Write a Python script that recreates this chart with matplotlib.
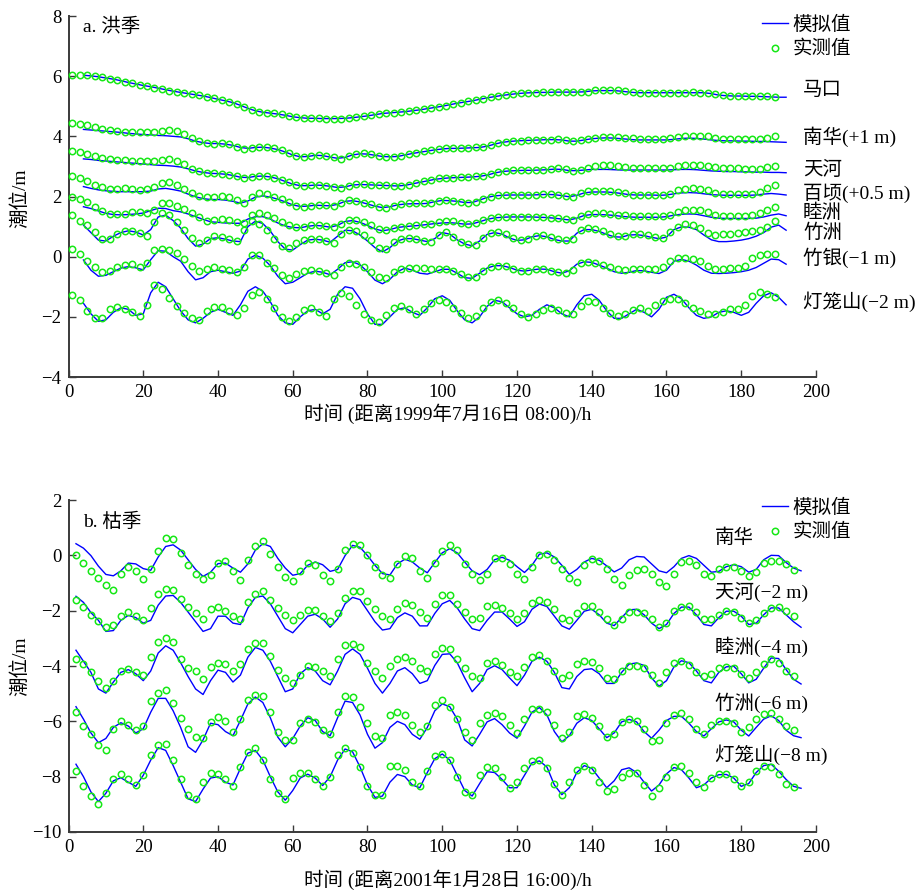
import numpy as np
import matplotlib
matplotlib.use("Agg")
import matplotlib.pyplot as plt
from matplotlib.lines import Line2D

plt.rcParams['font.family'] = ['Liberation Serif', 'Noto Sans CJK SC']
plt.rcParams['axes.unicode_minus'] = True

# ---------------- Panel a (flood season) ----------------
# observed values every 2 h starting at t=1 h; simulated every 2 h starting at t=4 h
a_names = ["马口", "南华(+1 m)", "天河", "百顷(+0.5 m)", "睦洲", "竹洲", "竹银(\u22121 m)", "灯笼山(\u22122 m)"]

MK_obs = [6.05, 6.05, 6.03, 6.00, 5.96, 5.92, 5.87, 5.82, 5.76, 5.71,
          5.67, 5.62, 5.57, 5.52, 5.48, 5.44, 5.40, 5.36, 5.31, 5.26,
          5.20, 5.15, 5.08, 4.97, 4.87, 4.82, 4.79, 4.76, 4.73, 4.68,
          4.63, 4.61, 4.60, 4.60, 4.59, 4.59, 4.59, 4.60, 4.63, 4.66,
          4.70, 4.74, 4.77, 4.79, 4.81, 4.83, 4.86, 4.90, 4.94, 4.98,
          5.02, 5.07, 5.12, 5.16, 5.20, 5.25, 5.30, 5.34, 5.37, 5.41,
          5.43, 5.44, 5.45, 5.46, 5.46, 5.47, 5.47, 5.48, 5.47, 5.49,
          5.53, 5.53, 5.53, 5.53, 5.50, 5.46, 5.45, 5.45, 5.45, 5.45,
          5.45, 5.45, 5.45, 5.46, 5.45, 5.44, 5.40, 5.36, 5.35, 5.35,
          5.34, 5.34, 5.33, 5.33, 5.32]
MK_sim = [6.03, 6.01, 5.98, 5.94, 5.90, 5.85, 5.79, 5.74, 5.69, 5.65,
          5.60, 5.55, 5.50, 5.46, 5.42, 5.38, 5.34, 5.29, 5.23, 5.18,
          5.12, 5.03, 4.93, 4.85, 4.80, 4.77, 4.74, 4.70, 4.65, 4.62,
          4.60, 4.60, 4.59, 4.59, 4.59, 4.60, 4.62, 4.65, 4.68, 4.72,
          4.76, 4.78, 4.80, 4.82, 4.85, 4.88, 4.92, 4.96, 5.00, 5.05,
          5.10, 5.14, 5.18, 5.23, 5.28, 5.32, 5.36, 5.39, 5.42, 5.44,
          5.45, 5.46, 5.46, 5.47, 5.47, 5.47, 5.47, 5.48, 5.51, 5.52,
          5.52, 5.52, 5.50, 5.47, 5.45, 5.45, 5.45, 5.45, 5.45, 5.45,
          5.45, 5.45, 5.45, 5.45, 5.42, 5.37, 5.35, 5.34, 5.34, 5.33,
          5.33, 5.32, 5.31, 5.30, 5.30]
NH_obs = [4.45, 4.42, 4.37, 4.32, 4.26, 4.22, 4.18, 4.16, 4.15, 4.15,
          4.15, 4.15, 4.17, 4.20, 4.17, 4.08, 3.93, 3.84, 3.78, 3.76,
          3.78, 3.73, 3.66, 3.58, 3.60, 3.65, 3.65, 3.60, 3.53, 3.45,
          3.35, 3.30, 3.35, 3.38, 3.34, 3.30, 3.26, 3.35, 3.42, 3.43,
          3.40, 3.35, 3.32, 3.32, 3.35, 3.42, 3.45, 3.50, 3.53, 3.57,
          3.60, 3.60, 3.61, 3.62, 3.63, 3.64, 3.70, 3.78, 3.82, 3.84,
          3.86, 3.87, 3.88, 3.89, 3.89, 3.90, 3.87, 3.83, 3.87, 3.92,
          3.96, 3.99, 3.99, 3.98, 3.96, 3.93, 3.91, 3.91, 3.91, 3.91,
          3.93, 3.99, 4.01, 4.02, 4.01, 4.00, 3.95, 3.91, 3.90, 3.90,
          3.90, 3.90, 3.90, 3.94, 4.01]
NH_sim = [4.23, 4.21, 4.19, 4.17, 4.15, 4.13, 4.10, 4.08, 4.06, 4.05,
          4.03, 4.02, 4.00, 3.98, 3.92, 3.84, 3.79, 3.76, 3.76, 3.74,
          3.70, 3.63, 3.60, 3.63, 3.64, 3.61, 3.56, 3.48, 3.38, 3.32,
          3.33, 3.37, 3.36, 3.31, 3.27, 3.30, 3.38, 3.42, 3.41, 3.37,
          3.33, 3.32, 3.33, 3.38, 3.43, 3.47, 3.51, 3.55, 3.58, 3.60,
          3.60, 3.61, 3.62, 3.63, 3.67, 3.74, 3.80, 3.83, 3.85, 3.86,
          3.87, 3.88, 3.89, 3.89, 3.88, 3.84, 3.84, 3.88, 3.92, 3.94,
          3.95, 3.94, 3.92, 3.90, 3.88, 3.88, 3.88, 3.88, 3.88, 3.90,
          3.93, 3.94, 3.93, 3.91, 3.88, 3.86, 3.85, 3.85, 3.84, 3.84,
          3.83, 3.83, 3.82, 3.81, 3.80]
TH_obs = [3.52, 3.47, 3.40, 3.33, 3.27, 3.24, 3.21, 3.20, 3.19, 3.19,
          3.18, 3.18, 3.20, 3.23, 3.17, 3.07, 2.93, 2.85, 2.79, 2.77,
          2.76, 2.73, 2.67, 2.61, 2.64, 2.69, 2.69, 2.63, 2.56, 2.48,
          2.38, 2.35, 2.37, 2.38, 2.36, 2.33, 2.29, 2.35, 2.40, 2.40,
          2.39, 2.38, 2.37, 2.36, 2.35, 2.39, 2.44, 2.50, 2.55, 2.60,
          2.63, 2.63, 2.64, 2.66, 2.67, 2.69, 2.75, 2.82, 2.86, 2.87,
          2.87, 2.88, 2.88, 2.89, 2.91, 2.94, 2.90, 2.86, 2.88, 2.95,
          3.01, 3.04, 3.05, 3.03, 2.98, 2.95, 2.94, 2.94, 2.94, 2.94,
          2.96, 3.02, 3.05, 3.06, 3.05, 3.03, 2.98, 2.95, 2.94, 2.94,
          2.93, 2.93, 2.93, 2.97, 3.01]
TH_sim = [3.25, 3.23, 3.20, 3.18, 3.16, 3.14, 3.12, 3.10, 3.08, 3.06,
          3.04, 3.03, 3.01, 2.98, 2.92, 2.85, 2.80, 2.77, 2.76, 2.74,
          2.70, 2.64, 2.63, 2.67, 2.68, 2.65, 2.59, 2.50, 2.41, 2.36,
          2.36, 2.38, 2.37, 2.34, 2.30, 2.32, 2.38, 2.40, 2.39, 2.38,
          2.37, 2.36, 2.35, 2.37, 2.42, 2.47, 2.52, 2.57, 2.60, 2.62,
          2.63, 2.64, 2.65, 2.67, 2.71, 2.78, 2.83, 2.85, 2.86, 2.87,
          2.87, 2.88, 2.89, 2.91, 2.90, 2.86, 2.86, 2.88, 2.90, 2.90,
          2.90, 2.89, 2.88, 2.88, 2.88, 2.88, 2.88, 2.88, 2.88, 2.89,
          2.90, 2.90, 2.89, 2.87, 2.85, 2.84, 2.83, 2.83, 2.82, 2.82,
          2.81, 2.81, 2.80, 2.80, 2.79]
BQ_obs = [2.68, 2.60, 2.50, 2.38, 2.30, 2.24, 2.25, 2.27, 2.25, 2.22,
          2.24, 2.30, 2.45, 2.47, 2.38, 2.25, 2.10, 2.02, 1.98, 1.98,
          2.02, 1.97, 1.88, 1.77, 2.00, 2.10, 2.07, 1.98, 1.91, 1.82,
          1.70, 1.66, 1.70, 1.72, 1.71, 1.70, 1.78, 1.87, 1.86, 1.80,
          1.74, 1.66, 1.63, 1.68, 1.75, 1.77, 1.77, 1.77, 1.78, 1.86,
          1.88, 1.86, 1.83, 1.79, 1.82, 1.93, 2.00, 2.04, 2.05, 2.05,
          2.05, 2.05, 2.06, 2.07, 2.07, 2.05, 2.02, 1.99, 2.10, 2.17,
          2.19, 2.19, 2.18, 2.14, 2.10, 2.06, 2.05, 2.05, 2.04, 2.04,
          2.08, 2.20, 2.26, 2.27, 2.25, 2.20, 2.12, 2.08, 2.07, 2.07,
          2.07, 2.07, 2.16, 2.28, 2.38]
BQ_sim = [2.33, 2.27, 2.22, 2.19, 2.17, 2.16, 2.16, 2.16, 2.16, 2.18,
          2.25, 2.27, 2.23, 2.18, 2.08, 1.99, 1.93, 1.90, 1.90, 1.88,
          1.84, 1.78, 1.85, 1.98, 2.02, 1.98, 1.91, 1.82, 1.72, 1.67,
          1.68, 1.71, 1.70, 1.69, 1.74, 1.84, 1.86, 1.82, 1.75, 1.68,
          1.63, 1.66, 1.72, 1.75, 1.76, 1.76, 1.77, 1.83, 1.87, 1.86,
          1.84, 1.80, 1.80, 1.88, 1.97, 2.02, 2.04, 2.05, 2.05, 2.05,
          2.05, 2.06, 2.07, 2.06, 2.03, 1.99, 2.04, 2.12, 2.15, 2.15,
          2.15, 2.13, 2.10, 2.06, 2.05, 2.05, 2.05, 2.04, 2.05, 2.09,
          2.12, 2.13, 2.12, 2.09, 2.06, 2.05, 2.04, 2.04, 2.04, 2.04,
          2.05, 2.08, 2.10, 2.08, 2.05]
MZ_obs = [1.99, 1.92, 1.82, 1.66, 1.52, 1.43, 1.42, 1.43, 1.47, 1.48,
          1.45, 1.55, 1.78, 1.80, 1.68, 1.58, 1.46, 1.33, 1.20, 1.22,
          1.26, 1.23, 1.16, 1.11, 1.38, 1.44, 1.40, 1.28, 1.14, 1.06,
          1.00, 1.00, 1.06, 1.06, 1.03, 1.00, 1.08, 1.22, 1.22, 1.14,
          1.04, 0.92, 0.88, 0.95, 1.00, 1.03, 1.05, 1.07, 1.10, 1.16,
          1.20, 1.17, 1.13, 1.10, 1.13, 1.22, 1.28, 1.32, 1.33, 1.33,
          1.33, 1.33, 1.33, 1.32, 1.30, 1.28, 1.25, 1.23, 1.35, 1.42,
          1.44, 1.44, 1.43, 1.40, 1.37, 1.35, 1.35, 1.35, 1.35, 1.36,
          1.40, 1.50, 1.55, 1.56, 1.54, 1.48, 1.40, 1.36, 1.35, 1.35,
          1.35, 1.37, 1.44, 1.55, 1.64]
MZ_sim = [1.66, 1.60, 1.52, 1.44, 1.40, 1.39, 1.40, 1.42, 1.45, 1.53,
          1.61, 1.60, 1.53, 1.49, 1.42, 1.33, 1.24, 1.16, 1.14, 1.12,
          1.11, 1.11, 1.25, 1.33, 1.33, 1.25, 1.12, 1.02, 0.97, 0.96,
          1.01, 1.04, 1.02, 0.98, 1.04, 1.17, 1.20, 1.14, 1.04, 0.92,
          0.86, 0.90, 0.97, 1.00, 1.02, 1.04, 1.07, 1.10, 1.12, 1.13,
          1.11, 1.08, 1.09, 1.16, 1.24, 1.29, 1.31, 1.32, 1.32, 1.32,
          1.32, 1.31, 1.30, 1.28, 1.25, 1.22, 1.28, 1.37, 1.40, 1.40,
          1.39, 1.37, 1.34, 1.32, 1.31, 1.31, 1.31, 1.31, 1.33, 1.38,
          1.41, 1.42, 1.41, 1.36, 1.31, 1.28, 1.27, 1.27, 1.27, 1.27,
          1.28, 1.32, 1.38, 1.42, 1.36]
ZZ_obs = [1.39, 1.20, 1.05, 0.83, 0.60, 0.60, 0.74, 0.84, 0.86, 0.80,
          0.70, 1.15, 1.44, 1.38, 1.15, 0.90, 0.62, 0.46, 0.55, 0.70,
          0.66, 0.60, 0.53, 0.90, 1.20, 1.10, 0.90, 0.60, 0.36, 0.28,
          0.45, 0.57, 0.60, 0.60, 0.52, 0.44, 0.75, 0.88, 0.85, 0.72,
          0.55, 0.30, 0.25, 0.48, 0.60, 0.61, 0.58, 0.53, 0.50, 0.72,
          0.82, 0.65, 0.50, 0.42, 0.40, 0.62, 0.78, 0.83, 0.76, 0.62,
          0.55, 0.60, 0.70, 0.72, 0.66, 0.58, 0.55, 0.60, 0.88, 0.94,
          0.92, 0.86, 0.76, 0.68, 0.70, 0.76, 0.76, 0.72, 0.66, 0.62,
          0.82, 1.00, 1.10, 1.06, 0.94, 0.80, 0.72, 0.74, 0.77, 0.80,
          0.83, 0.86, 0.88, 1.00, 1.20]
ZZ_sim = [1.05, 0.80, 0.55, 0.52, 0.68, 0.80, 0.86, 0.82, 0.72, 0.90,
          1.32, 1.38, 1.20, 0.95, 0.60, 0.35, 0.42, 0.60, 0.63, 0.58,
          0.52, 0.50, 1.00, 1.18, 1.10, 0.85, 0.50, 0.25, 0.22, 0.40,
          0.55, 0.58, 0.55, 0.48, 0.68, 0.88, 0.86, 0.72, 0.52, 0.30,
          0.16, 0.30, 0.52, 0.60, 0.60, 0.55, 0.50, 0.60, 0.80, 0.75,
          0.56, 0.42, 0.36, 0.52, 0.74, 0.80, 0.75, 0.62, 0.54, 0.56,
          0.66, 0.70, 0.66, 0.57, 0.52, 0.52, 0.78, 0.90, 0.90, 0.84,
          0.74, 0.66, 0.65, 0.72, 0.73, 0.70, 0.64, 0.60, 0.65, 0.90,
          0.99, 0.98, 0.90, 0.72, 0.56, 0.50, 0.50, 0.52, 0.55, 0.60,
          0.68, 0.80, 0.98, 1.05, 0.88]
ZY_obs = [0.24, 0.08, -0.15, -0.33, -0.50, -0.46, -0.35, -0.27, -0.25, -0.33,
          -0.20, 0.22, 0.27, 0.22, 0.12, -0.08, -0.32, -0.48, -0.42, -0.35,
          -0.40, -0.44, -0.50, -0.35, 0.05, 0.05, -0.20, -0.38, -0.60, -0.70,
          -0.56, -0.48, -0.44, -0.46, -0.55, -0.62, -0.35, -0.22, -0.24, -0.33,
          -0.50, -0.68, -0.70, -0.50, -0.42, -0.38, -0.37, -0.38, -0.40, -0.40,
          -0.40, -0.48, -0.58, -0.68, -0.68, -0.46, -0.36, -0.31, -0.32, -0.40,
          -0.47, -0.46, -0.42, -0.42, -0.46, -0.52, -0.55, -0.45, -0.22, -0.17,
          -0.20, -0.27, -0.35, -0.42, -0.44, -0.42, -0.42, -0.42, -0.40, -0.33,
          -0.14, -0.06, -0.03, -0.08, -0.16, -0.30, -0.40, -0.40, -0.38, -0.38,
          -0.32, -0.05, 0.07, 0.09, 0.09]
ZY_sim = [-0.11, -0.45, -0.65, -0.62, -0.50, -0.38, -0.33, -0.37, -0.44, -0.10,
          0.20, 0.18, 0.00, -0.15, -0.50, -0.77, -0.70, -0.50, -0.45, -0.50,
          -0.55, -0.48, -0.08, 0.05, -0.05, -0.30, -0.65, -0.90, -0.85, -0.70,
          -0.55, -0.48, -0.52, -0.60, -0.42, -0.20, -0.17, -0.27, -0.50, -0.78,
          -0.90, -0.75, -0.50, -0.38, -0.45, -0.55, -0.58, -0.50, -0.42, -0.42,
          -0.55, -0.70, -0.72, -0.55, -0.38, -0.30, -0.30, -0.36, -0.45, -0.48,
          -0.44, -0.41, -0.42, -0.50, -0.55, -0.47, -0.25, -0.17, -0.19, -0.28,
          -0.38, -0.50, -0.55, -0.52, -0.46, -0.47, -0.52, -0.56, -0.45, -0.15,
          -0.09, -0.15, -0.28, -0.45, -0.55, -0.56, -0.55, -0.53, -0.50, -0.45,
          -0.36, -0.22, -0.08, -0.10, -0.25]
DLS_obs = [-1.28, -1.45, -1.80, -2.04, -2.05, -1.75, -1.68, -1.74, -1.85, -1.97,
           -1.60, -0.95, -1.08, -1.38, -1.65, -1.88, -2.05, -2.10, -1.82, -1.68,
           -1.66, -1.80, -1.95, -1.70, -1.28, -1.18, -1.40, -1.70, -2.00, -2.15,
           -2.02, -1.78, -1.72, -1.84, -1.97, -1.40, -1.20, -1.30, -1.60, -1.90,
           -2.10, -2.17, -1.95, -1.70, -1.65, -1.75, -1.92, -1.75, -1.55, -1.45,
           -1.52, -1.72, -1.88, -2.03, -1.98, -1.70, -1.52, -1.45, -1.55, -1.72,
           -1.90, -2.00, -1.92, -1.76, -1.70, -1.76, -1.88, -1.92, -1.65, -1.46,
           -1.52, -1.70, -1.86, -1.96, -1.90, -1.78, -1.72, -1.82, -1.60, -1.48,
           -1.40, -1.42, -1.55, -1.70, -1.82, -1.90, -1.92, -1.85, -1.75, -1.75,
           -1.62, -1.30, -1.18, -1.25, -1.35]
DLS_sim = [-1.55, -1.90, -2.15, -2.10, -1.85, -1.70, -1.75, -1.95, -1.90, -1.20,
           -0.85, -1.00, -1.40, -1.80, -2.10, -2.20, -2.05, -1.85, -1.75, -1.85,
           -1.95, -1.60, -1.15, -1.00, -1.15, -1.50, -1.95, -2.20, -2.25, -2.00,
           -1.80, -1.75, -1.90, -1.75, -1.25, -1.00, -1.05, -1.40, -1.90, -2.25,
           -2.25, -2.00, -1.75, -1.70, -1.85, -1.95, -1.70, -1.40, -1.30, -1.45,
           -1.80, -2.10, -2.20, -2.00, -1.65, -1.45, -1.50, -1.70, -1.90, -2.00,
           -1.95, -1.75, -1.60, -1.70, -1.90, -2.00, -1.60, -1.30, -1.25, -1.45,
           -1.80, -2.05, -2.05, -1.90, -1.75, -1.85, -2.00, -1.75, -1.35, -1.25,
           -1.40, -1.70, -1.95, -2.05, -2.00, -1.85, -1.80, -1.85, -1.95, -1.85,
           -1.55, -1.30, -1.20, -1.35, -1.60]

# ---------------- Panel b (dry season) ----------------
# observed and simulated values every 2 h starting at t=2 h
b_names = ["南华", "天河(\u22122 m)", "睦洲(\u22124 m)", "竹洲(\u22126 m)", "灯笼山(\u22128 m)"]

bNH_obs = [0.02, -0.28, -0.56, -0.82, -1.08, -1.26, -0.66, -0.42, -0.56, -0.86,
           -0.51, 0.14, 0.64, 0.59, 0.09, -0.36, -0.66, -0.86, -0.71, -0.26,
           -0.22, -0.56, -0.88, -0.16, 0.34, 0.52, 0.04, -0.41, -0.78, -0.94,
           -0.56, -0.28, -0.36, -0.71, -0.92, -0.48, 0.19, 0.42, 0.36, 0.02,
           -0.41, -0.71, -0.82, -0.31, -0.04, -0.11, -0.56, -0.81, -0.26, 0.14,
           0.36, 0.19, -0.31, -0.66, -0.89, -0.66, -0.11, -0.09, -0.31, -0.66,
           -0.86, -0.41, 0.02, 0.04, -0.16, -0.51, -0.81, -0.96, -0.36, -0.12,
           -0.21, -0.51, -0.86, -1.06, -0.71, -0.53, -0.51, -0.66, -0.96, -1.11,
           -0.66, -0.24, -0.22, -0.36, -0.66, -0.76, -0.51, -0.41, -0.41, -0.56,
           -0.76, -0.61, -0.28, -0.20, -0.21, -0.31, -0.54]
bNH_sim = [0.42, 0.26, -0.01, -0.39, -0.69, -0.74, -0.56, -0.28, -0.31, -0.48,
           -0.54, -0.06, 0.32, 0.38, 0.19, -0.16, -0.51, -0.76, -0.61, -0.30,
           -0.28, -0.46, -0.61, -0.31, 0.19, 0.42, 0.32, -0.11, -0.46, -0.72,
           -0.66, -0.36, -0.24, -0.34, -0.58, -0.51, -0.01, 0.36, 0.29, -0.01,
           -0.36, -0.66, -0.71, -0.31, -0.14, -0.24, -0.46, -0.63, -0.26, 0.09,
           0.24, 0.09, -0.24, -0.56, -0.70, -0.51, -0.16, -0.07, -0.18, -0.41,
           -0.62, -0.36, 0.04, 0.09, -0.06, -0.36, -0.69, -0.51, -0.24, -0.11,
           -0.18, -0.38, -0.60, -0.46, -0.16, -0.04, -0.06, -0.31, -0.56, -0.63,
           -0.41, -0.11, -0.01, -0.11, -0.36, -0.61, -0.58, -0.41, -0.34, -0.41,
           -0.61, -0.51, -0.16, 0.00, -0.01, -0.26, -0.46, -0.56]
bTH_obs = [-1.60, -1.85, -2.15, -2.38, -2.60, -2.50, -2.20, -2.05, -2.20, -2.32,
           -1.90, -1.40, -1.20, -1.25, -1.58, -1.85, -2.10, -2.29, -1.95, -1.88,
           -2.00, -2.20, -2.30, -1.70, -1.38, -1.30, -1.60, -1.90, -2.15, -2.32,
           -2.15, -1.98, -1.97, -2.20, -2.36, -2.10, -1.55, -1.30, -1.30, -1.65,
           -1.95, -2.20, -2.29, -1.93, -1.72, -1.80, -2.05, -2.26, -1.75, -1.42,
           -1.45, -1.75, -2.05, -2.30, -2.25, -1.82, -1.78, -1.90, -2.10, -2.30,
           -2.10, -1.72, -1.63, -1.68, -1.95, -2.28, -2.35, -2.08, -1.82, -1.82,
           -2.05, -2.30, -2.50, -2.30, -2.05, -2.05, -2.07, -2.30, -2.58, -2.45,
           -2.00, -1.85, -1.82, -2.05, -2.30, -2.30, -2.15, -2.02, -2.05, -2.25,
           -2.45, -2.35, -2.10, -1.90, -1.88, -2.00, -2.18]
bTH_sim = [-1.48, -1.70, -2.07, -2.35, -2.75, -2.72, -2.35, -2.17, -2.25, -2.45,
           -2.35, -1.80, -1.47, -1.45, -1.70, -2.05, -2.40, -2.75, -2.65, -2.20,
           -2.20, -2.45, -2.50, -1.90, -1.52, -1.47, -1.75, -2.20, -2.65, -2.80,
           -2.50, -2.20, -2.13, -2.30, -2.60, -2.30, -1.75, -1.52, -1.60, -2.00,
           -2.40, -2.70, -2.65, -2.25, -2.08, -2.20, -2.55, -2.55, -2.10, -1.75,
           -1.63, -1.90, -2.30, -2.65, -2.72, -2.35, -2.05, -2.05, -2.30, -2.57,
           -2.40, -1.95, -1.76, -1.85, -2.20, -2.55, -2.67, -2.35, -2.02, -1.95,
           -2.15, -2.45, -2.54, -2.25, -1.97, -1.95, -2.15, -2.45, -2.65, -2.50,
           -2.10, -1.87, -1.87, -2.15, -2.50, -2.55, -2.25, -2.02, -2.02, -2.20,
           -2.50, -2.45, -2.15, -1.90, -1.90, -2.15, -2.40, -2.60]
bMZ_obs = [-3.73, -3.93, -4.23, -4.53, -4.78, -4.53, -4.18, -4.12, -4.23, -4.33,
           -3.68, -3.13, -3.00, -3.13, -3.73, -4.08, -4.18, -4.48, -4.03, -3.89,
           -3.93, -4.18, -3.93, -3.38, -3.18, -3.18, -3.63, -4.13, -4.43, -4.61,
           -4.33, -3.99, -4.03, -4.18, -4.37, -3.73, -3.23, -3.20, -3.33, -3.88,
           -4.18, -4.43, -3.99, -3.73, -3.68, -3.83, -4.08, -4.18, -3.58, -3.35,
           -3.38, -3.73, -4.08, -4.37, -4.43, -3.88, -3.81, -3.98, -4.21, -4.37,
           -4.03, -3.68, -3.59, -3.83, -4.18, -4.43, -4.33, -3.93, -3.83, -3.84,
           -4.08, -4.43, -4.48, -4.18, -4.00, -3.99, -4.08, -4.33, -4.62, -4.23,
           -3.88, -3.81, -3.98, -4.23, -4.35, -4.28, -4.08, -4.02, -4.08, -4.28,
           -4.43, -4.23, -3.93, -3.74, -3.88, -4.18, -4.37]
bMZ_sim = [-3.43, -3.83, -4.23, -4.83, -4.98, -4.58, -4.23, -4.13, -4.28, -4.53,
           -4.18, -3.53, -3.27, -3.43, -3.88, -4.38, -4.83, -5.03, -4.53, -4.15,
           -4.23, -4.58, -4.33, -3.68, -3.33, -3.43, -3.83, -4.38, -4.93, -4.83,
           -4.28, -4.06, -4.18, -4.53, -4.68, -4.18, -3.58, -3.38, -3.58, -4.08,
           -4.63, -4.98, -4.63, -4.18, -4.06, -4.28, -4.63, -4.53, -3.98, -3.58,
           -3.56, -3.88, -4.43, -4.93, -4.63, -4.13, -3.99, -4.13, -4.43, -4.71,
           -4.33, -3.83, -3.68, -3.83, -4.23, -4.78, -4.83, -4.38, -4.13, -4.10,
           -4.28, -4.63, -4.63, -4.23, -3.93, -3.89, -3.98, -4.43, -4.73, -4.53,
           -4.03, -3.81, -3.88, -4.18, -4.53, -4.61, -4.23, -4.03, -4.01, -4.28,
           -4.61, -4.48, -4.08, -3.71, -3.73, -4.13, -4.48, -4.65]
bZZ_obs = [-5.67, -6.17, -6.47, -6.87, -7.02, -6.27, -5.99, -6.12, -6.32, -6.17,
           -5.27, -4.97, -4.87, -5.32, -5.87, -6.27, -6.57, -6.62, -6.02, -5.86,
           -5.97, -6.37, -5.92, -5.22, -5.05, -5.07, -5.67, -6.37, -6.69, -6.67,
           -6.07, -5.93, -6.02, -6.32, -6.47, -5.67, -5.07, -5.12, -5.47, -6.07,
           -6.52, -6.62, -5.77, -5.65, -5.77, -6.12, -6.37, -6.17, -5.42, -5.24,
           -5.47, -5.92, -6.37, -6.67, -6.05, -5.77, -5.70, -5.82, -6.12, -6.43,
           -5.92, -5.57, -5.55, -5.67, -6.12, -6.59, -6.37, -5.82, -5.74, -5.87,
           -6.17, -6.57, -6.47, -6.02, -5.93, -5.99, -6.27, -6.72, -6.67, -6.07,
           -5.77, -5.70, -5.92, -6.27, -6.45, -6.12, -5.97, -5.97, -6.07, -6.37,
           -6.22, -5.92, -5.72, -5.69, -5.92, -6.17, -6.32]
bZZ_sim = [-5.47, -5.92, -6.42, -6.77, -6.62, -6.22, -6.05, -6.17, -6.42, -6.27,
           -5.67, -5.17, -5.17, -5.62, -6.22, -6.92, -7.12, -6.67, -6.07, -6.12,
           -6.37, -6.52, -5.97, -5.37, -5.12, -5.32, -5.87, -6.57, -6.92, -6.62,
           -6.17, -5.87, -5.97, -6.37, -6.52, -5.87, -5.27, -5.32, -5.77, -6.47,
           -6.97, -6.77, -6.22, -6.00, -6.12, -6.47, -6.65, -6.22, -5.62, -5.37,
           -5.47, -5.92, -6.67, -6.89, -6.47, -6.02, -5.90, -6.12, -6.42, -6.61,
           -6.17, -5.67, -5.50, -5.77, -6.37, -6.74, -6.52, -6.07, -5.87, -5.97,
           -6.27, -6.59, -6.42, -6.02, -5.93, -6.02, -6.37, -6.61, -6.32, -5.97,
           -5.82, -5.82, -6.07, -6.37, -6.53, -6.27, -6.02, -5.95, -6.02, -6.32,
           -6.53, -6.22, -5.92, -5.80, -5.97, -6.32, -6.52, -6.59]
bDLS_obs = [-7.80, -8.32, -8.70, -9.00, -8.60, -8.08, -7.91, -8.10, -8.30, -7.95,
            -7.23, -6.85, -6.82, -7.40, -8.10, -8.65, -8.82, -8.20, -7.85, -7.90,
            -8.10, -8.32, -7.66, -7.10, -6.98, -7.40, -8.10, -8.60, -8.82, -8.04,
            -7.86, -7.87, -8.10, -8.35, -8.00, -7.20, -6.98, -7.15, -7.65, -8.35,
            -8.65, -8.65, -7.60, -7.60, -7.75, -8.20, -8.35, -7.80, -7.25, -7.17,
            -7.40, -8.00, -8.55, -8.65, -7.95, -7.66, -7.70, -8.00, -8.41, -8.20,
            -7.70, -7.43, -7.41, -7.70, -8.25, -8.66, -8.20, -7.75, -7.63, -7.75,
            -8.20, -8.52, -8.45, -8.00, -7.85, -7.85, -8.30, -8.70, -8.40, -8.00,
            -7.65, -7.62, -7.85, -8.20, -8.37, -8.05, -7.91, -7.92, -8.10, -8.35,
            -8.20, -7.80, -7.60, -7.65, -7.90, -8.25, -8.37]
bDLS_sim = [-7.55, -8.00, -8.55, -8.90, -8.60, -8.15, -8.04, -8.20, -8.35, -7.95,
            -7.40, -6.95, -7.05, -7.60, -8.20, -8.80, -8.90, -8.45, -8.05, -8.00,
            -8.20, -8.30, -7.70, -7.15, -7.05, -7.40, -8.00, -8.55, -8.85, -8.50,
            -8.05, -7.91, -8.05, -8.32, -8.00, -7.40, -7.00, -7.10, -7.65, -8.30,
            -8.75, -8.70, -8.20, -7.92, -8.00, -8.30, -8.40, -7.85, -7.35, -7.18,
            -7.40, -7.95, -8.50, -8.70, -8.25, -7.82, -7.85, -8.10, -8.40, -8.40,
            -7.95, -7.50, -7.43, -7.65, -8.30, -8.65, -8.40, -7.85, -7.60, -7.70,
            -8.05, -8.40, -8.15, -7.75, -7.68, -7.85, -8.20, -8.52, -8.30, -7.90,
            -7.67, -7.75, -8.05, -8.40, -8.30, -8.05, -7.93, -7.92, -8.05, -8.35,
            -8.25, -7.85, -7.60, -7.55, -7.80, -8.10, -8.35, -8.42]

a_obs = [MK_obs, NH_obs, TH_obs, BQ_obs, MZ_obs, ZZ_obs, ZY_obs, DLS_obs]
a_sim = [MK_sim, NH_sim, TH_sim, BQ_sim, MZ_sim, ZZ_sim, ZY_sim, DLS_sim]
b_obs = [bNH_obs, bTH_obs, bMZ_obs, bZZ_obs, bDLS_obs]
b_sim = [bNH_sim, bTH_sim, bMZ_sim, bZZ_sim, bDLS_sim]

x_ticks = [0, 20, 40, 60, 80, 100, 120, 140, 160, 180, 200]
a_yticks = [-4, -2, 0, 2, 4, 6, 8]
b_yticks = [-10, -8, -6, -4, -2, 0, 2]
legend_labels = ["模拟值", "实测值"]

# ---------------- drawing ----------------
W, H = 919, 893
BLUE = "#0000FF"
GREEN = "#16E816"
SPINE = "#3a3a3a"
FS = 14


def fx(px):
    return px / W


def fy(py):
    return 1 - py / H


fig = plt.figure(figsize=(W / 100, H / 100), dpi=100)
axA = fig.add_axes([fx(68.5), fy(377), (816 - 68.5) / W, (377 - 16) / H])
axB = fig.add_axes([fx(68.5), fy(832), (816 - 68.5) / W, (832 - 500) / H])


def style(ax, ylim, yticks):
    ax.set_xlim(0, 200)
    ax.set_ylim(*ylim)
    ax.set_xticks(x_ticks)
    ax.set_yticks(yticks)
    for s in ("top", "right"):
        ax.spines[s].set_visible(False)
    for s in ("left", "bottom"):
        ax.spines[s].set_linewidth(1.4)
        ax.spines[s].set_color(SPINE)
    ax.tick_params(direction="in", length=5, width=1.0, color=SPINE,
                   labelsize=13.5, pad=5)
    ax.set_facecolor("none")


def draw(ax, obs_list, sim_list, t0_obs, t0_sim):
    for obs, sim in zip(obs_list, sim_list):
        ts = t0_sim + 2 * np.arange(len(sim))
        to = t0_obs + 2 * np.arange(len(obs))
        ax.plot(ts, sim, color=BLUE, lw=1.0, zorder=2, clip_on=False)
        ax.plot(to, obs, ls="none", marker="o", mfc="none", mec=GREEN,
                ms=4.6, mew=1.1, zorder=3, clip_on=False)


style(axA, (-4, 8), a_yticks)
style(axB, (-10, 2), b_yticks)
draw(axA, a_obs, a_sim, 1, 4)
draw(axB, b_obs, b_sim, 2, 2)

# legends
handles = [Line2D([], [], color=BLUE, lw=1.0),
           Line2D([], [], ls="none", marker="o", mfc="none", mec=GREEN, ms=4.6, mew=1.1)]
for yy in (16, 499):
    fig.legend(handles, legend_labels, loc="upper left",
               bbox_to_anchor=(fx(762), fy(yy)), frameon=False, fontsize=FS,
               handlelength=1.35, handletextpad=0.2, borderpad=0.0,
               labelspacing=0.3, borderaxespad=0.0)

# panel titles
fig.text(fx(83), fy(27), "a. 洪季", fontsize=FS, va="center", ha="left")
fig.text(fx(83), fy(522), "b. 枯季", fontsize=FS, va="center", ha="left")

# station labels
a_label_pos = [(803, 90), (803, 137), (803, 170), (803, 193), (803, 213),
               (803, 233), (803, 258), (803, 302)]
for name, (px, py) in zip(a_names, a_label_pos):
    fig.text(fx(px), fy(py), name, fontsize=FS, va="center", ha="left")
b_label_pos = [(715, 538), (715, 592), (715, 647), (715, 703), (715, 755)]
for name, (px, py) in zip(b_names, b_label_pos):
    fig.text(fx(px), fy(py), name, fontsize=FS, va="center", ha="left")

# axis labels
fig.text(fx(20), fy(198), "潮位/m", rotation=90, fontsize=FS, va="center", ha="center")
fig.text(fx(20), fy(666), "潮位/m", rotation=90, fontsize=FS, va="center", ha="center")
fig.text(fx(448), fy(414), "时间 (距离1999年7月16日 08:00)/h", fontsize=FS,
         va="center", ha="center")
fig.text(fx(448), fy(880), "时间 (距离2001年1月28日 16:00)/h", fontsize=FS,
         va="center", ha="center")

fig.savefig("out.png", dpi=100)
